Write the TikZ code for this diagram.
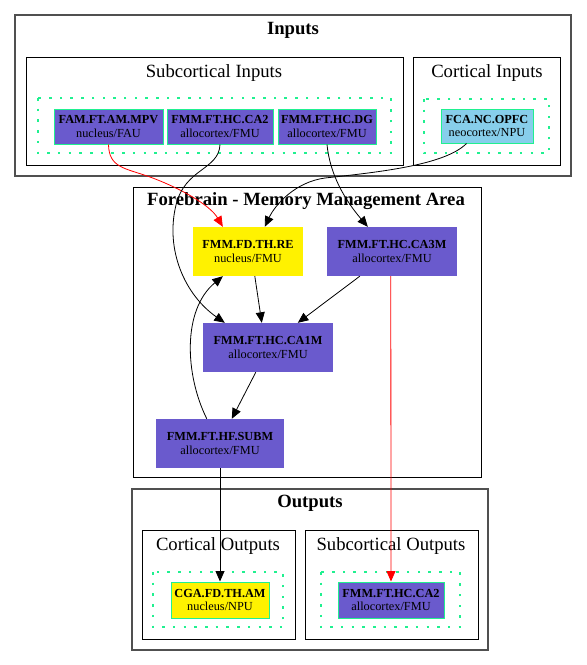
\documentclass[tikz,border=0pt]{standalone}
\usepackage{fontspec}
\setmainfont{Liberation Serif}
\usepackage{xcolor}
\usepackage{tikz}
\usetikzlibrary{arrows.meta, positioning}
\definecolor{SlateBlue}{HTML}{6A5ACD}
\definecolor{SkyBlue}{HTML}{87CEEB}
\definecolor{SpringGreen}{HTML}{20F090}
\definecolor{ClusterGrey}{HTML}{505050}

\begin{document}
\begin{tikzpicture}[x=1pt, y=-1pt, >={Triangle[length=10.5pt,width=9pt]}]
    \tikzstyle{outer} = [draw=ClusterGrey, line width=1.2pt]
    \tikzstyle{inner} = [draw=black, line width=0.8pt]
    \tikzstyle{dots} = [draw=SpringGreen, line width=1.3pt, dash pattern=on 2.5pt off 8.2pt]
    \tikzstyle{bigtitle} = [font=\fontsize{18.67}{20}\selectfont\bfseries]
    \tikzstyle{title} = [font=\fontsize{18.67}{20}\selectfont]
    \tikzstyle{leaf} = [rectangle, draw=SpringGreen, line width=1pt, inner sep=0pt, align=center, minimum height=35pt, font=\fontsize{12.3}{13.5}\selectfont]
    \tikzstyle{area} = [rectangle, draw=none, inner sep=0pt, align=center, minimum height=49pt, font=\fontsize{12.3}{13.5}\selectfont]
    \tikzstyle{line} = [draw, ->, line width=0.8pt, black]
    \tikzstyle{redline} = [draw, ->, line width=0.8pt, red]

    \useasboundingbox (0,0) rectangle (587,665);

    \draw [outer] (15,15) rectangle (571,176);
    \node [bigtitle] (inputs) at (293,30) {Inputs};
    \draw [inner] (26,57) rectangle (403,165);
    \node [title] (subin) at (214,73) {Subcortical Inputs};
    \draw [dots] (38,98) rectangle (391,153);
    \draw [inner] (413,57) rectangle (560,165);
    \node [title] (cortin) at (487,73) {Cortical Inputs};
    \draw [dots] (424,99) rectangle (549,153);

    \draw [inner] (133,187) rectangle (481,477);
    \node [bigtitle] (forebrain) at (306,201) {Forebrain - Memory Management Area};

    \draw [outer] (132,489) rectangle (488,650);
    \node [bigtitle] (outputs) at (310,503) {Outputs};
    \draw [inner] (142,530) rectangle (295,639);
    \node [title] (cortout) at (218,546) {Cortical Outputs};
    \draw [dots] (153,572) rectangle (283,627);
    \draw [inner] (305,530) rectangle (478,639);
    \node [title] (subout) at (391,546) {Subcortical Outputs};
    \draw [dots] (321,572) rectangle (460,627);

    \node [leaf, fill=SlateBlue, minimum width=109pt] (mpv) at (108.5,126.5) {\textbf{FAM.FT.AM.MPV}\\nucleus/FAU};
    \node [leaf, fill=SlateBlue, minimum width=106pt] (ca2in) at (220,126.5) {\textbf{FMM.FT.HC.CA2}\\allocortex/FMU};
    \node [leaf, fill=SlateBlue, minimum width=98pt] (dg) at (327,126.5) {\textbf{FMM.FT.HC.DG}\\allocortex/FMU};
    \node [leaf, fill=SkyBlue, minimum width=92pt, minimum height=34pt] (opfc) at (487,126) {\textbf{FCA.NC.OPFC}\\neocortex/NPU};

    \node [area, fill=yellow, minimum width=110pt] (re) at (248,251.5) {\textbf{FMM.FD.TH.RE}\\nucleus/FMU};
    \node [area, fill=SlateBlue, minimum width=130pt] (ca3m) at (392,251.5) {\textbf{FMM.FT.HC.CA3M}\\allocortex/FMU};
    \node [area, fill=SlateBlue, minimum width=130pt] (ca1m) at (268,347.5) {\textbf{FMM.FT.HC.CA1M}\\allocortex/FMU};
    \node [area, fill=SlateBlue, minimum width=128pt] (subm) at (220,443.5) {\textbf{FMM.FT.HF.SUBM}\\allocortex/FMU};

    \node [leaf, fill=yellow, minimum width=98pt, minimum height=36pt] (amout) at (220,600) {\textbf{CGA.FD.TH.AM}\\nucleus/NPU};
    \node [leaf, fill=SlateBlue, minimum width=106pt, minimum height=36pt] (ca2out) at (391,600) {\textbf{FMM.FT.HC.CA2}\\allocortex/FMU};

    \path [redline] (mpv.south) .. controls (109,168) and (125,168) .. (150,177) .. controls (180,188) and (210,205) .. ([xshift=30pt]re.north west);
    \path [line] (ca2in.south) .. controls (219,170) and (185,168) .. (176,205) .. controls (165,250) and (185,295) .. ([xshift=22pt]ca1m.north west);
    \path [line] (dg.south) .. controls (330,175) and (345,200) .. ([xshift=41pt]ca3m.north west);
    \path [line] ([xshift=26pt]opfc.south west) .. controls (445,165) and (380,172) .. (325,178) .. controls (295,182) and (275,205) .. ([xshift=72pt]re.north west);
    \path [line] ([xshift=62pt]re.south west) -- ([xshift=59pt]ca1m.north west);
    \path [line] ([xshift=33pt]ca3m.south west) -- ([xshift=95pt]ca1m.north west);
    \path [line] ([xshift=53pt]ca1m.south west) -- ([xshift=76pt]subm.north west);
    \path [line] ([xshift=51pt]subm.north west) .. controls (185,375) and (182,310) .. ([xshift=30pt]re.south west);
    \path [line] (subm.south) -- (amout.north);
    \path [redline] ([xshift=64pt]ca3m.south west) -- (ca2out.north);
\end{tikzpicture}
\end{document}
